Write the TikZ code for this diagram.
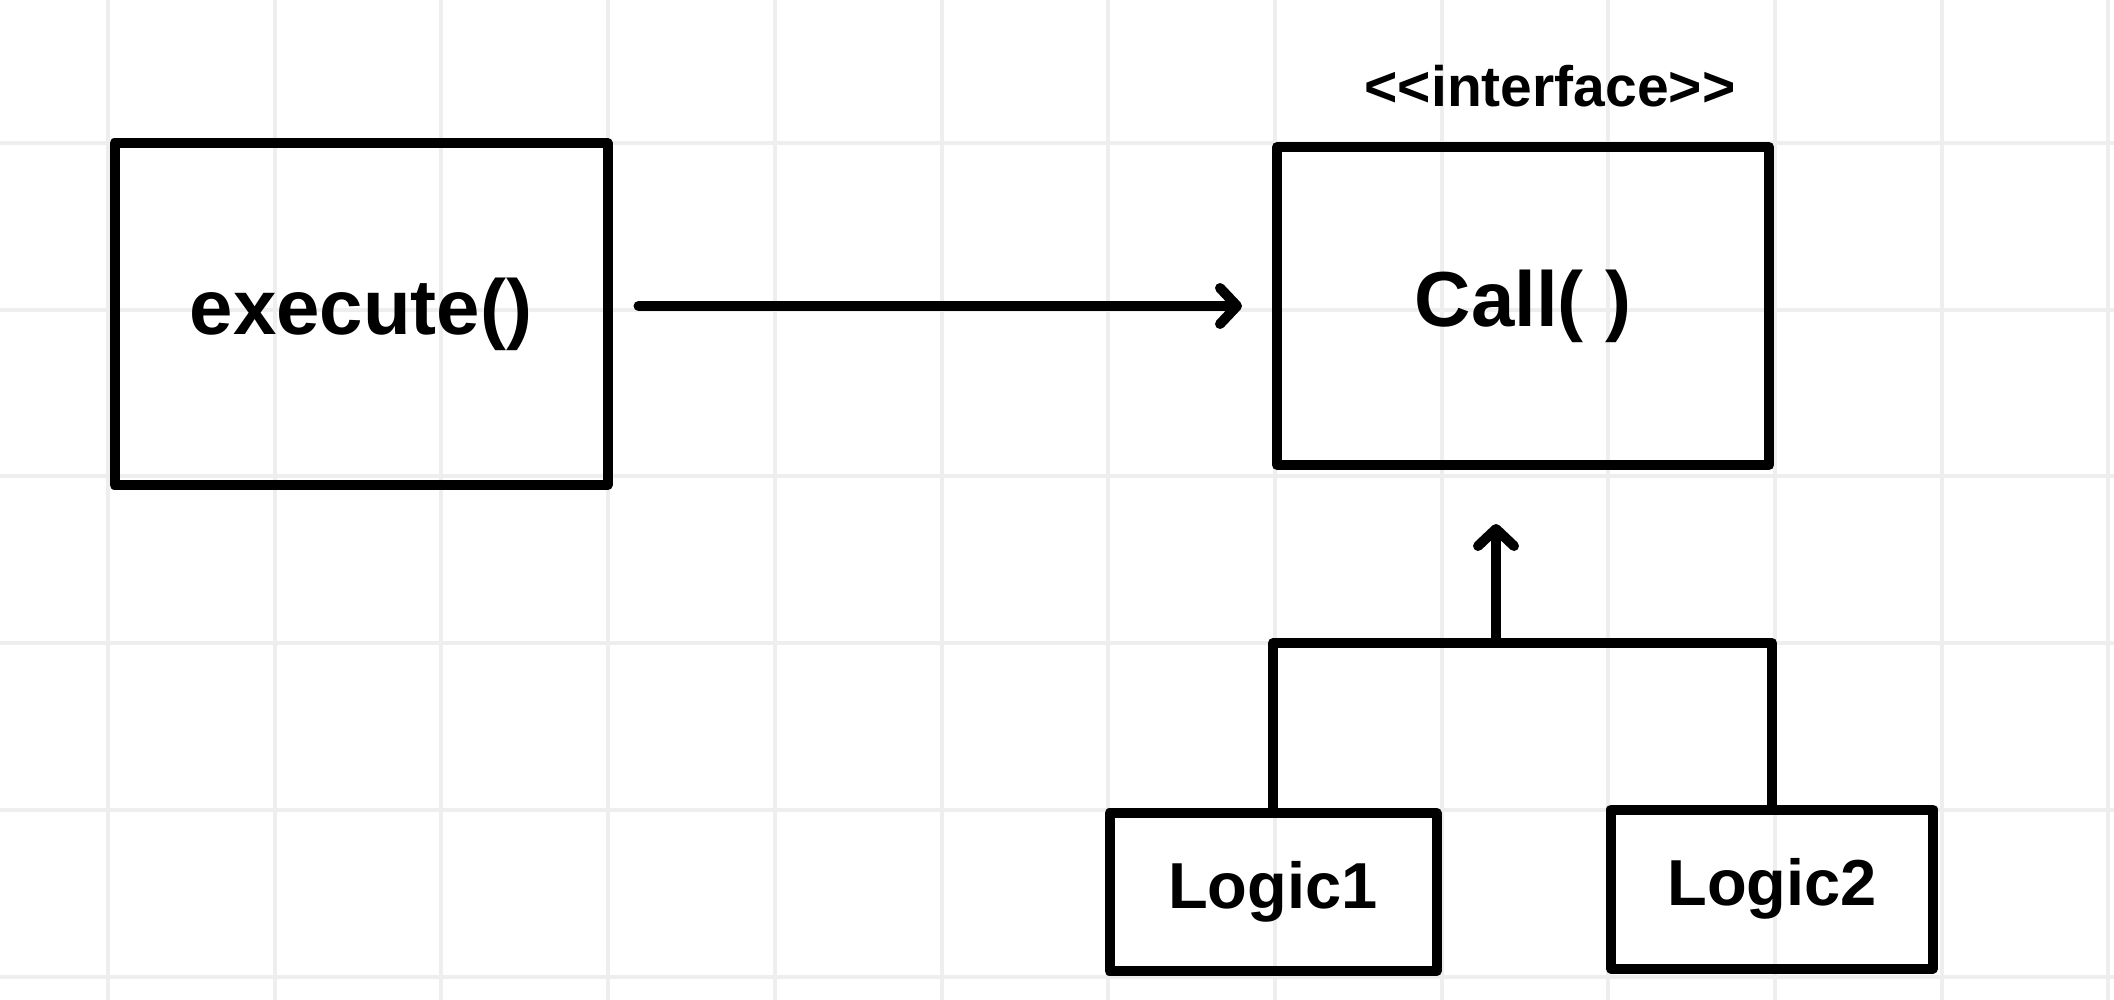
\documentclass[tikz,border=0pt]{standalone}
\usepackage{fontspec}
\setmainfont{Liberation Sans}
\usetikzlibrary{arrows.meta}
\definecolor{gridgray}{HTML}{EEEEEE}
\tikzset{
  box/.style={draw=black, line width=10pt, line join=round, minimum width=#1, inner sep=0pt},
  conn/.style={draw=black, line width=10pt, line cap=round, line join=round},
  arr/.style={conn, -{Straight Barb[length=17pt,width=36pt,line width=10pt,round]}},
  lbl/.style={font=\bfseries\fontsize{78}{84}\selectfont},
  lbls/.style={font=\bfseries\fontsize{65}{70}\selectfont},
}
\begin{document}
\begin{tikzpicture}[x=1pt,y=-1pt]
\useasboundingbox (0,0) rectangle (2114,1000);
\fill[white] (0,0) rectangle (2114,1000);
% grid
\foreach \k in {0,...,12} {
  \draw[gridgray, line width=4pt] ({108+166.7*\k},0) -- ({108+166.7*\k},1000);
}
\foreach \k in {0,...,5} {
  \draw[gridgray, line width=4pt] (0,{143+166.7*\k}) -- (2114,{143+166.7*\k});
}
% boxes
\node[box=493pt, minimum height=342pt, lbl] (exec) at (361,314) {execute()};
\node[box=492pt, minimum height=318pt, lbl] (call) at (1523,306) {Call( )};
\node[box=327pt, minimum height=158pt, lbls] (logic1) at (1273,892) {Logic1};
\node[box=322pt, minimum height=159pt, lbls] (logic2) at (1772,889) {Logic2};
\node[font=\bfseries\fontsize{57}{60}\selectfont] (stereo) at (1550,86) {<\kern0pt<interface>\kern0pt>};
% connectors
\draw[arr] ([xshift=26pt]exec.east |- call.west) -- ([xshift=-30pt]call.west);
\coordinate (j) at (1496,643);
\draw[arr] (j) -- ([yshift=-54pt]call.south -| j);
\draw[conn] (logic1.north) |- (logic2.north |- j) -- (logic2.north);
\end{tikzpicture}
\end{document}
